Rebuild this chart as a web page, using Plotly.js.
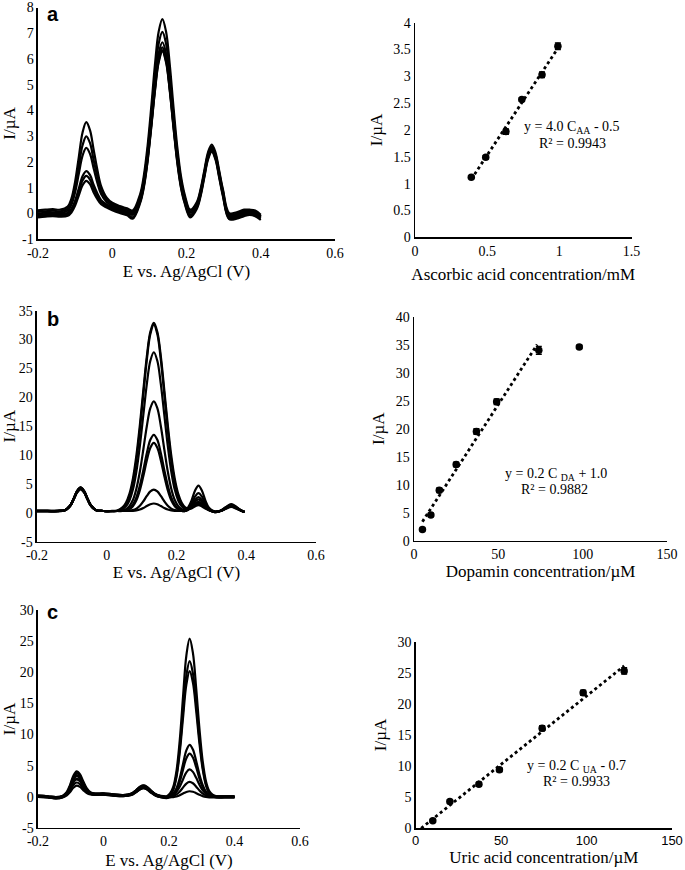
<!DOCTYPE html>
<html>
<head>
<meta charset="utf-8">
<script src="https://cdn.plot.ly/plotly-3.0.1.min.js"></script>
<style>html,body{margin:0;padding:0;background:#fff;}#chart{width:685px;height:870px;}</style>
</head>
<body>
<div id="chart"></div>
<script>
// ---------- Panel a: DPV, ascorbic acid series ----------
const potentialA = [-0.2, -0.18, -0.16, -0.14, -0.12, -0.11, -0.1, -0.09, -0.08, -0.07, -0.06, -0.05, -0.04, -0.03, -0.015, 0, 0.02, 0.04, 0.055, 0.075, 0.085, 0.095, 0.105, 0.115, 0.125, 0.135, 0.145, 0.155, 0.165, 0.175, 0.185, 0.195, 0.21, 0.228, 0.238, 0.248, 0.258, 0.268, 0.278, 0.288, 0.298, 0.315, 0.335, 0.355, 0.37, 0.385, 0.4];
const dpvA1 = [0.12, 0.15, 0.17, 0.15, 0.27, 0.58, 1.24, 2.20, 3.15, 3.55, 3.24, 2.47, 1.69, 1.07, 0.62, 0.42, 0.29, 0.2, 0.12, 0.75, 1.46, 2.60, 4.12, 5.77, 7.06, 7.55, 7.06, 5.77, 4.12, 2.60, 1.46, 0.75, 0.15, 0.45, 0.95, 1.67, 2.38, 2.68, 2.38, 1.67, 0.95, 0.02, 0.05, 0.15, 0.15, 0.12, -0.05];
const dpvA2 = [0.06, 0.09, 0.11, 0.09, 0.19, 0.46, 1.02, 1.85, 2.65, 3.0, 2.74, 2.07, 1.42, 0.91, 0.53, 0.36, 0.23, 0.14, 0.06, 0.65, 1.32, 2.39, 3.83, 5.37, 6.59, 7.05, 6.59, 5.37, 3.83, 2.39, 1.32, 0.65, 0.09, 0.40, 0.89, 1.60, 2.30, 2.60, 2.30, 1.60, 0.89, -0.05, 0.0, 0.1, 0.12, 0.08, -0.1];
const dpvA3 = [0.0, 0.03, 0.05, 0.03, 0.11, 0.34, 0.83, 1.55, 2.25, 2.55, 2.32, 1.75, 1.19, 0.76, 0.45, 0.3, 0.17, 0.08, 0.0, 0.57, 1.20, 2.22, 3.58, 5.05, 6.21, 6.65, 6.21, 5.05, 3.58, 2.22, 1.20, 0.57, 0.03, 0.34, 0.83, 1.55, 2.25, 2.55, 2.25, 1.55, 0.83, -0.1, -0.05, 0.05, 0.08, 0.05, -0.12];
const dpvA4 = [-0.05, -0.02, 0.0, -0.02, 0.03, 0.18, 0.50, 0.98, 1.45, 1.65, 1.50, 1.11, 0.78, 0.52, 0.35, 0.24, 0.12, 0.03, -0.05, 0.50, 1.12, 2.12, 3.45, 4.89, 6.02, 6.45, 6.02, 4.89, 3.45, 2.12, 1.12, 0.50, -0.05, 0.29, 0.78, 1.50, 2.20, 2.50, 2.20, 1.50, 0.78, -0.15, -0.1, 0.0, 0.05, 0.0, -0.15];
const dpvA5 = [-0.1, -0.07, -0.05, -0.07, -0.03, 0.11, 0.41, 0.85, 1.28, 1.46, 1.32, 0.97, 0.67, 0.44, 0.29, 0.19, 0.07, -0.02, -0.15, 0.45, 1.06, 2.05, 3.38, 4.80, 5.92, 6.35, 5.92, 4.80, 3.38, 2.05, 1.06, 0.45, -0.1, 0.24, 0.73, 1.45, 2.15, 2.45, 2.15, 1.45, 0.73, -0.2, -0.15, -0.05, 0.0, -0.05, -0.2];
const dpvA6 = [-0.15, -0.12, -0.1, -0.12, -0.09, 0.04, 0.31, 0.71, 1.10, 1.27, 1.14, 0.82, 0.56, 0.36, 0.23, 0.13, 0.02, -0.07, -0.2, 0.40, 1.01, 2.0, 3.33, 4.75, 5.87, 6.3, 5.87, 4.75, 3.33, 2.0, 1.01, 0.40, -0.15, 0.19, 0.68, 1.40, 2.10, 2.40, 2.10, 1.40, 0.68, -0.22, -0.2, -0.1, -0.05, -0.1, -0.25];

// ---------- Panel b: DPV, dopamine series ----------
const potentialB = [-0.2, -0.17, -0.14, -0.12, -0.105, -0.095, -0.085, -0.075, -0.065, -0.055, -0.045, -0.03, -0.01, 0.01, 0.03, 0.045, 0.055, 0.065, 0.075, 0.085, 0.095, 0.105, 0.115, 0.125, 0.135, 0.145, 0.155, 0.165, 0.175, 0.185, 0.195, 0.205, 0.215, 0.225, 0.233, 0.243, 0.253, 0.263, 0.273, 0.283, 0.293, 0.31, 0.327, 0.342, 0.357, 0.372, 0.385, 0.395];
const dpvB1 = [0.3, 0.3, 0.3, 0.45, 1.24, 2.43, 3.78, 4.4, 3.78, 2.43, 1.24, 0.45, 0.3, 0.3, 0.4, 0.92, 1.73, 3.27, 5.91, 9.92, 15.23, 21.29, 27.13, 31.34, 32.9, 31.34, 27.13, 21.29, 15.23, 9.92, 5.91, 3.27, 1.73, 0.92, 0.76, 0.89, 1.26, 1.5, 1.26, 0.79, 0.46, 0.15, 0.36, 0.93, 1.4, 0.93, 0.41, 0.15];
const dpvB2 = [0.3, 0.3, 0.3, 0.45, 1.22, 2.38, 3.7, 4.3, 3.7, 2.38, 1.22, 0.45, 0.3, 0.3, 0.35, 0.78, 1.46, 2.82, 5.27, 9.09, 14.35, 20.52, 26.53, 30.95, 32.6, 30.95, 26.53, 20.52, 14.35, 9.09, 5.27, 2.82, 1.46, 0.78, 0.64, 0.76, 1.1, 1.3, 1.1, 0.71, 0.44, 0.1, 0.35, 0.87, 1.3, 0.87, 0.39, 0.14];
const dpvB3 = [0.35, 0.35, 0.35, 0.45, 1.22, 2.38, 3.7, 4.3, 3.7, 2.38, 1.22, 0.45, 0.3, 0.25, 0.3, 0.6, 1.1, 2.12, 4.01, 7.15, 11.6, 16.99, 22.33, 26.32, 27.8, 26.32, 22.33, 16.99, 11.6, 7.15, 4.01, 2.12, 1.1, 0.6, 0.62, 0.96, 1.58, 1.9, 1.58, 0.96, 0.52, 0.2, 0.34, 0.81, 1.2, 0.81, 0.38, 0.14];
const dpvB4 = [0.25, 0.25, 0.25, 0.44, 1.2, 2.33, 3.61, 4.2, 3.61, 2.33, 1.2, 0.44, 0.3, 0.25, 0.3, 0.41, 0.62, 1.14, 2.2, 4.16, 7.14, 11.0, 15.03, 18.12, 19.3, 18.12, 15.03, 11.0, 7.14, 4.16, 2.2, 1.14, 0.62, 0.41, 0.62, 1.29, 2.22, 2.7, 2.22, 1.29, 0.62, 0.15, 0.38, 0.99, 1.5, 0.99, 0.43, 0.15];
const dpvB5 = [0.3, 0.3, 0.3, 0.44, 1.2, 2.33, 3.61, 4.2, 3.61, 2.33, 1.2, 0.44, 0.3, 0.3, 0.3, 0.35, 0.46, 0.76, 1.42, 2.68, 4.71, 7.41, 10.33, 12.63, 13.5, 12.63, 10.33, 7.41, 4.71, 2.68, 1.42, 0.76, 0.46, 0.35, 0.72, 1.57, 2.78, 3.4, 2.78, 1.57, 0.72, 0.1, 0.34, 0.81, 1.2, 0.81, 0.38, 0.14];
const dpvB6 = [0.35, 0.35, 0.35, 0.45, 1.24, 2.43, 3.78, 4.4, 3.78, 2.43, 1.24, 0.45, 0.3, 0.3, 0.3, 0.3, 0.41, 0.62, 1.13, 2.15, 3.91, 6.37, 9.08, 11.26, 12.1, 11.26, 9.08, 6.37, 3.91, 2.15, 1.13, 0.62, 0.41, 0.3, 0.89, 2.11, 3.82, 4.7, 3.82, 2.11, 0.89, 0.2, 0.32, 0.75, 1.1, 0.75, 0.36, 0.14];
const dpvB7 = [0.25, 0.25, 0.25, 0.44, 1.17, 2.28, 3.53, 4.1, 3.53, 2.28, 1.17, 0.44, 0.3, 0.3, 0.3, 0.3, 0.31, 0.35, 0.46, 0.72, 1.22, 1.99, 2.92, 3.69, 4.0, 3.69, 2.92, 1.99, 1.22, 0.72, 0.46, 0.35, 0.31, 0.3, 0.57, 1.12, 1.9, 2.3, 1.9, 1.12, 0.57, 0.15, 0.35, 0.87, 1.3, 0.87, 0.39, 0.14];
const dpvB8 = [0.3, 0.3, 0.3, 0.44, 1.17, 2.28, 3.53, 4.1, 3.53, 2.28, 1.17, 0.44, 0.3, 0.3, 0.3, 0.3, 0.3, 0.31, 0.33, 0.4, 0.55, 0.81, 1.16, 1.47, 1.6, 1.47, 1.16, 0.81, 0.55, 0.4, 0.33, 0.31, 0.3, 0.3, 0.49, 0.88, 1.42, 1.7, 1.42, 0.88, 0.49, 0.1, 0.31, 0.69, 1.0, 0.69, 0.34, 0.13];

// ---------- Panel c: DPV, uric acid series ----------
const potentialC = [-0.2, -0.17, -0.145, -0.125, -0.112, -0.102, -0.092, -0.082, -0.072, -0.062, -0.052, -0.04, -0.025, 0, 0.03, 0.06, 0.085, 0.1, 0.112, 0.122, 0.132, 0.145, 0.16, 0.175, 0.193, 0.203, 0.213, 0.223, 0.233, 0.243, 0.253, 0.263, 0.273, 0.283, 0.293, 0.303, 0.313, 0.323, 0.333, 0.345, 0.37, 0.4];
const dpvC1 = [0.2, 0.1, -0.05, 0.16, 0.79, 1.93, 3.39, 4.1, 3.63, 2.5, 1.45, 0.75, 0.54, 0.55, 0.4, 0.3, 0.54, 1.09, 1.61, 1.8, 1.61, 1.01, 0.41, 0.15, 0.1, 0.53, 1.59, 4.22, 9.21, 16.17, 22.69, 25.4, 23.12, 17.43, 10.9, 5.67, 2.48, 0.93, 0.35, 0.1, 0.1, 0.1];
const dpvC2 = [0.1, 0.0, -0.15, 0.05, 0.65, 1.74, 3.13, 3.8, 3.36, 2.29, 1.29, 0.63, 0.44, 0.45, 0.3, 0.2, 0.42, 0.94, 1.42, 1.6, 1.42, 0.85, 0.3, 0.05, -0.01, 0.37, 1.29, 3.55, 7.85, 13.84, 19.47, 21.8, 19.84, 14.93, 9.31, 4.8, 2.05, 0.72, 0.22, 0.0, 0.0, 0.0];
const dpvC3 = [0.0, -0.1, -0.25, -0.05, 0.52, 1.55, 2.86, 3.5, 3.09, 2.07, 1.13, 0.51, 0.34, 0.35, 0.2, 0.1, 0.3, 0.78, 1.23, 1.4, 1.23, 0.7, 0.18, -0.06, -0.12, 0.25, 1.1, 3.21, 7.21, 12.79, 18.03, 20.2, 18.37, 13.81, 8.57, 4.37, 1.81, 0.57, 0.1, -0.1, -0.1, -0.1];
const dpvC4 = [0.15, 0.05, -0.1, 0.09, 0.62, 1.56, 2.77, 3.35, 2.97, 2.05, 1.2, 0.64, 0.49, 0.5, 0.35, 0.25, 0.51, 1.1, 1.65, 1.85, 1.65, 1.01, 0.38, 0.1, -0.02, 0.19, 0.54, 1.4, 3.04, 5.32, 7.46, 8.35, 7.6, 5.74, 3.59, 1.88, 0.83, 0.32, 0.13, 0.05, 0.05, 0.05];
const dpvC5 = [0.05, -0.05, -0.2, -0.02, 0.47, 1.32, 2.42, 2.95, 2.61, 1.78, 1.01, 0.51, 0.38, 0.4, 0.25, 0.15, 0.37, 0.89, 1.37, 1.55, 1.37, 0.8, 0.25, 0.0, -0.12, 0.07, 0.36, 1.09, 2.47, 4.4, 6.2, 6.95, 6.32, 4.75, 2.94, 1.49, 0.61, 0.18, 0.02, -0.05, -0.05, -0.05];
const dpvC6 = [0.2, 0.1, -0.05, 0.12, 0.56, 1.34, 2.32, 2.8, 2.5, 1.75, 1.07, 0.63, 0.53, 0.55, 0.4, 0.3, 0.48, 0.93, 1.35, 1.5, 1.35, 0.85, 0.36, 0.14, 0.02, 0.17, 0.35, 0.8, 1.65, 2.83, 3.94, 4.4, 4.01, 3.05, 1.94, 1.05, 0.5, 0.24, 0.14, 0.1, 0.1, 0.1];
const dpvC7 = [0.1, 0.0, -0.15, 0.01, 0.4, 1.05, 1.89, 2.3, 2.05, 1.42, 0.86, 0.5, 0.43, 0.45, 0.3, 0.2, 0.44, 0.99, 1.51, 1.7, 1.51, 0.91, 0.31, 0.1, -0.09, 0.04, 0.14, 0.39, 0.86, 1.52, 2.14, 2.4, 2.18, 1.64, 1.02, 0.53, 0.23, 0.08, 0.02, 0.0, 0.0, 0.0];
const dpvC8 = [0.0, -0.1, -0.25, -0.1, 0.23, 0.77, 1.46, 1.8, 1.6, 1.09, 0.65, 0.37, 0.32, 0.35, 0.2, 0.1, 0.3, 0.78, 1.23, 1.4, 1.23, 0.7, 0.18, -0.06, -0.2, -0.08, -0.04, 0.06, 0.26, 0.54, 0.79, 0.9, 0.81, 0.59, 0.33, 0.12, -0.01, -0.07, -0.09, -0.1, -0.1, -0.1];

// ---------- Calibration data ----------
const aaConc = [0.39, 0.49, 0.63, 0.74, 0.88, 0.99];
const aaCurrent = [1.12, 1.49, 1.97, 2.57, 3.03, 3.56];
const aaErr = [0.02, 0.03, 0.05, 0.03, 0.05, 0.06];
const aaTrendRange = [0.39, 1.0];

const daConc = [5, 10, 15, 25, 37, 49, 74, 98];
const daCurrent = [2.0, 4.6, 9.0, 13.6, 19.5, 24.8, 34.0, 34.6];
const daErr = [0.2, 0.3, 0.4, 0.4, 0.5, 0.5, 0.7, 0.3];
const daTrendCount = 7;
const daTrendRange = [5, 73];

const uaConc = [10, 20, 37, 49, 74, 98, 122];
const uaCurrent = [1.2, 4.3, 7.1, 9.4, 16.1, 21.8, 25.3];
const uaErr = [0.2, 0.3, 0.3, 0.3, 0.4, 0.4, 0.5];
const uaTrendRange = [3.2, 122];

// ---------- Tick labels ----------
const eTickVals = [-0.2, 0, 0.2, 0.4, 0.6];
const eTickText = ['-0.2', '0', '0.2', '0.4', '0.6'];
const yTickValsA = [-1, 0, 1, 2, 3, 4, 5, 6, 7, 8];
const yTickTextA = ['-1', '0', '1', '2', '3', '4', '5', '6', '7', '8'];
const yTickValsB = [-5, 0, 5, 10, 15, 20, 25, 30, 35];
const yTickTextB = ['-5', '0', '5', '10', '15', '20', '25', '30', '35'];
const yTickValsC = [-5, 0, 5, 10, 15, 20, 25, 30];
const yTickTextC = ['-5', '0', '5', '10', '15', '20', '25', '30'];
const aaTickValsX = [0, 0.5, 1, 1.5];
const aaTickTextX = ['0', '0.5', '1', '1.5'];
const aaTickValsY = [0, 0.5, 1, 1.5, 2, 2.5, 3, 3.5, 4];
const aaTickTextY = ['0', '0.5', '1', '1.5', '2', '2.5', '3', '3.5', '4'];
const concTickVals = [0, 50, 100, 150];
const concTickText = ['0', '50', '100', '150'];
const daTickValsY = [0, 5, 10, 15, 20, 25, 30, 35, 40];
const daTickTextY = ['0', '5', '10', '15', '20', '25', '30', '35', '40'];
const uaTickValsY = [0, 5, 10, 15, 20, 25, 30];
const uaTickTextY = ['0', '5', '10', '15', '20', '25', '30'];

// ---------- helpers ----------
function linFit(xs, ys) {
  const n = xs.length;
  let sx = 0, sy = 0, sxx = 0, sxy = 0;
  for (let i = 0; i < n; i++) { sx += xs[i]; sy += ys[i]; sxx += xs[i]*xs[i]; sxy += xs[i]*ys[i]; }
  const m = (n*sxy - sx*sy) / (n*sxx - sx*sx);
  return {m: m, b: (sy - m*sx)/n};
}
function dpv(x, y, xa, ya) {
  return {x: x, y: y, xaxis: xa, yaxis: ya, type: 'scatter', mode: 'lines',
          line: {color: 'black', width: 2.2, shape: 'spline', smoothing: 1}, hoverinfo: 'skip'};
}
function trend(range, fit, xa, ya) {
  return {x: range, y: range.map(v => fit.m*v + fit.b), xaxis: xa, yaxis: ya, type: 'scatter', mode: 'lines',
          line: {color: 'black', width: 2.8, dash: 'dot'}, hoverinfo: 'skip'};
}
function points(x, y, err, xa, ya) {
  return {x: x, y: y, xaxis: xa, yaxis: ya, type: 'scatter', mode: 'markers',
          marker: {color: 'black', size: 7.5},
          error_y: {type: 'data', array: err, visible: true, color: 'black', thickness: 1.5, width: 3}};
}

const traces = [];
[dpvA1, dpvA2, dpvA3, dpvA4, dpvA5, dpvA6].forEach(s => traces.push(dpv(potentialA, s, 'x', 'y')));
[dpvB1, dpvB2, dpvB3, dpvB4, dpvB5, dpvB6, dpvB7, dpvB8].forEach(s => traces.push(dpv(potentialB, s, 'x3', 'y3')));
[dpvC1, dpvC2, dpvC3, dpvC4, dpvC5, dpvC6, dpvC7, dpvC8].forEach(s => traces.push(dpv(potentialC, s, 'x5', 'y5')));

traces.push(trend(aaTrendRange, linFit(aaConc, aaCurrent), 'x2', 'y2'));
traces.push(points(aaConc, aaCurrent, aaErr, 'x2', 'y2'));
traces.push(trend(daTrendRange, linFit(daConc.slice(0, daTrendCount), daCurrent.slice(0, daTrendCount)), 'x4', 'y4'));
traces.push(points(daConc, daCurrent, daErr, 'x4', 'y4'));
traces.push(trend(uaTrendRange, linFit(uaConc, uaCurrent), 'x6', 'y6'));
traces.push(points(uaConc, uaCurrent, uaErr, 'x6', 'y6'));

const serif = "'Liberation Serif', 'Times New Roman', serif";
const sans = "'Liberation Sans', Arial, sans-serif";

function xax(domain, range, tv, tt, title, anchor, standoff, tfont) {
  return {domain: domain, range: range, anchor: anchor, tickvals: tv, ticktext: tt,
          showline: true, linecolor: 'black', linewidth: 1.5, showgrid: false, zeroline: false, ticks: '',
          ticklabeloverflow: 'allow',
          tickfont: tfont || {family: serif, size: 14, color: 'black'},
          title: {text: title, font: {family: serif, size: 17, color: 'black'}, standoff: standoff},
          automargin: false, fixedrange: true};
}
function yax(domain, range, tv, tt, anchor, standoff) {
  return {domain: domain, range: range, anchor: anchor, tickvals: tv, ticktext: tt,
          showline: true, linecolor: 'black', linewidth: 1.5, showgrid: false, zeroline: false, ticks: '',
          ticklabeloverflow: 'allow',
          tickfont: {family: serif, size: 14, color: 'black'},
          title: {text: 'I/µA', font: {family: serif, size: 17, color: 'black'}, standoff: standoff},
          automargin: false, fixedrange: true};
}

const layout = {
  width: 685, height: 870, margin: {l: 0, r: 0, t: 0, b: 0},
  paper_bgcolor: 'white', plot_bgcolor: 'rgba(0,0,0,0)', showlegend: false,
  font: {family: serif, size: 14, color: 'black'},
  xaxis:  xax([0.05547, 0.48905], [-0.2, 0.6], eTickVals, eTickText, 'E vs. Ag/AgCl (V)', 'y', 5),
  yaxis:  yax([0.72494, 1 - 7.5/870], [-1, 8], yTickValsA, yTickTextA, 'x', 5),
  xaxis2: xax([0.60584, 0.92190], [0, 1.5], aaTickValsX, aaTickTextX, 'Ascorbic acid concentration/mM', 'y2', 10),
  yaxis2: yax([0.72724, 0.97391], [0, 4], aaTickValsY, aaTickTextY, 'x2', 6),
  xaxis3: xax([0.05401, 0.46131], [-0.2, 0.6], eTickVals, eTickText, 'E vs. Ag/AgCl (V)', 'y3', 1),
  yaxis3: yax([0.37747, 0.64287], [-5, 35], yTickValsB, yTickTextB, 'x3', 5),
  xaxis4: xax([0.60438, 0.97372], [0, 150], concTickVals, concTickText, 'Dopamin concentration/µM', 'y4', 4),
  yaxis4: yax([0.37851, 0.63598], [0, 40], daTickValsY, daTickTextY, 'x4', 6),
  xaxis5: xax([0.05547, 0.43796], [-0.2, 0.6], eTickVals, eTickText, 'E vs. Ag/AgCl (V)', 'y5', 6),
  yaxis5: yax([0.04828, 0.29885], [-5, 30], yTickValsC, yTickTextC, 'x5', 5),
  xaxis6: xax([0.60686, 0.98102], [0, 150], concTickVals, concTickText, 'Uric acid concentration/µM', 'y6', 1,
              {family: sans, size: 13, color: 'black'}),
  yaxis6: yax([0.04793, 0.26241], [0, 30], uaTickValsY, uaTickTextY, 'x6', 6),
  annotations: [
    {text: '<b>a</b>', xref: 'paper', yref: 'paper', x: 52.5/685, y: 1 - 1/870, xanchor: 'center', yanchor: 'top', showarrow: false, font: {family: sans, size: 20, color: 'black'}},
    {text: '<b>b</b>', xref: 'paper', yref: 'paper', x: 53.3/685, y: 1 - 331.7/870, xanchor: 'center', yanchor: 'bottom', showarrow: false, font: {family: sans, size: 20, color: 'black'}},
    {text: '<b>c</b>', xref: 'paper', yref: 'paper', x: 52.5/685, y: 1 - 625/870, xanchor: 'center', yanchor: 'bottom', showarrow: false, font: {family: sans, size: 20, color: 'black'}},
    {text: 'y = 4.0 C<sub>AA</sub> - 0.5', xref: 'paper', yref: 'paper', x: 572/685, y: 1 - 127.7/870, xanchor: 'center', yanchor: 'middle', showarrow: false, font: {family: serif, size: 14, color: 'black'}},
    {text: 'R² = 0.9943', xref: 'paper', yref: 'paper', x: 572/685, y: 1 - 143.3/870, xanchor: 'center', yanchor: 'middle', showarrow: false, font: {family: serif, size: 14, color: 'black'}},
    {text: 'y = 0.2 C <sub>DA</sub> + 1.0', xref: 'paper', yref: 'paper', x: 556/685, y: 1 - 474.3/870, xanchor: 'center', yanchor: 'middle', showarrow: false, font: {family: serif, size: 14, color: 'black'}},
    {text: 'R² = 0.9882', xref: 'paper', yref: 'paper', x: 554/685, y: 1 - 489.3/870, xanchor: 'center', yanchor: 'middle', showarrow: false, font: {family: serif, size: 14, color: 'black'}},
    {text: 'y = 0.2 C <sub>UA</sub> - 0.7', xref: 'paper', yref: 'paper', x: 576/685, y: 1 - 766.7/870, xanchor: 'center', yanchor: 'middle', showarrow: false, font: {family: serif, size: 14, color: 'black'}},
    {text: 'R² = 0.9933', xref: 'paper', yref: 'paper', x: 576/685, y: 1 - 781.7/870, xanchor: 'center', yanchor: 'middle', showarrow: false, font: {family: serif, size: 14, color: 'black'}}
  ]
};

Plotly.newPlot('chart', traces, layout, {displayModeBar: false, staticPlot: true});
</script>
</body>
</html>
